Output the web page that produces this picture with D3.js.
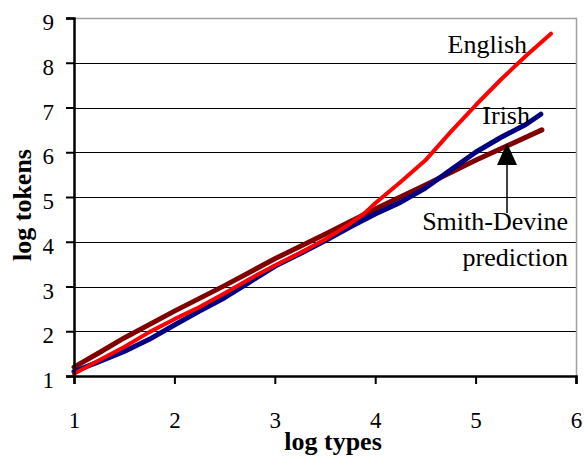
<!DOCTYPE html>
<html>
<head>
<meta charset="utf-8">
<script src="https://cdn.jsdelivr.net/npm/d3@7"></script>
<style>
    body { margin: 0; background: #fff; }
    svg text { font-family: "Liberation Serif", "Times New Roman", serif; fill: #000; }
</style>
</head>
<body>
<div id="chart"></div>
<script>
// 축 눈금
const xTicks = [1, 2, 3, 4, 5, 6];
const yTicks = [1, 2, 3, 4, 5, 6, 7, 8, 9];

// log types -> log tokens
const english = [
    [1.0, 1.05], [1.25, 1.35], [1.5, 1.65], [1.75, 1.98], [2.0, 2.27], [2.25, 2.54],
    [2.5, 2.85], [2.75, 3.17], [3.0, 3.47], [3.25, 3.75], [3.5, 4.05], [3.75, 4.4],
    [3.9, 4.65], [4.0, 4.86], [4.25, 5.33], [4.5, 5.82], [4.75, 6.45], [5.0, 7.05],
    [5.25, 7.62], [5.5, 8.15], [5.75, 8.65]
];
const irish = [
    [1.0, 1.1], [1.25, 1.32], [1.5, 1.55], [1.75, 1.82], [2.0, 2.14], [2.25, 2.45],
    [2.5, 2.75], [2.75, 3.1], [3.0, 3.45], [3.25, 3.73], [3.5, 4.02], [3.75, 4.33],
    [4.0, 4.62], [4.25, 4.88], [4.5, 5.2], [4.75, 5.6], [5.0, 6.0], [5.25, 6.33],
    [5.5, 6.62], [5.65, 6.85]
];
const smithDevine = [
    [1.0, 1.2], [1.25, 1.52], [1.5, 1.85], [2.0, 2.45], [2.5, 3.02], [3.0, 3.62],
    [3.5, 4.17], [4.0, 4.73], [4.5, 5.27], [5.0, 5.82], [5.66, 6.5]
];

const width = 584;
const height = 456;
const margin = { top: 18, right: 8, bottom: 80, left: 74 };

const svg = d3.select('#chart')
    .append('svg')
    .attr('width', width)
    .attr('height', height);

const x = d3.scaleLinear().domain([1, 6]).range([margin.left, width - margin.right]);
const y = d3.scaleLinear().domain([1, 9]).range([height - margin.bottom, margin.top]);

// 격자선
svg.append('g')
    .selectAll('line')
    .data(yTicks.slice(1, -1))
    .enter()
    .append('line')
    .attr('x1', x(1))
    .attr('x2', x(6))
    .attr('y1', d => Math.round(y(d)) + 0.5)
    .attr('y2', d => Math.round(y(d)) + 0.5)
    .attr('stroke', '#000')
    .attr('stroke-width', 1);

// 플롯 영역 테두리 (위, 오른쪽)
svg.append('path')
    .attr('d', `M${x(1)},${y(9) + 0.5}H${x(6) + 0.5}V${y(1)}`)
    .attr('fill', 'none')
    .attr('stroke', '#a0a0a0')
    .attr('stroke-width', 1.5);

// 데이터 선
const line = d3.line()
    .x(d => x(d[0]))
    .y(d => y(d[1]));

const series = [
    { name: 'Smith-Devine', data: smithDevine, color: '#800000', w: 5 },
    { name: 'Irish', data: irish, color: '#000080', w: 5 },
    { name: 'English', data: english, color: '#ff0000', w: 4 }
];

svg.append('g')
    .selectAll('path')
    .data(series)
    .enter()
    .append('path')
    .attr('d', d => line(d.data))
    .attr('fill', 'none')
    .attr('stroke', d => d.color)
    .attr('stroke-width', d => d.w)
    .attr('stroke-linecap', 'round')
    .attr('stroke-linejoin', 'round');

// 축
const xAxis = svg.append('g')
    .attr('transform', `translate(0,${y(1)})`)
    .call(d3.axisBottom(x).tickValues(xTicks).tickSize(8).tickPadding(28).tickFormat(d3.format('d')));

const yAxis = svg.append('g')
    .attr('transform', `translate(${x(1)},0)`)
    .call(d3.axisLeft(y).tickValues(yTicks).tickSize(8).tickPadding(12).tickFormat(d3.format('d')));

[xAxis, yAxis].forEach(g => {
    g.select('.domain').attr('stroke', '#000').attr('stroke-width', 2.5);
    g.selectAll('.tick line').attr('stroke', '#000').attr('stroke-width', 2);
    g.selectAll('.tick text')
        .attr('font-size', '23px')
        .attr('font-family', '"Liberation Serif", "Times New Roman", serif');
});
xAxis.selectAll('.tick text').attr('dy', '0.71em');
yAxis.selectAll('.tick text').attr('dy', '0.5em');

// 축 제목
svg.append('text')
    .attr('x', 333)
    .attr('y', 450)
    .attr('text-anchor', 'middle')
    .attr('font-size', '26px')
    .attr('font-weight', 'bold')
    .text('log types');

svg.append('text')
    .attr('transform', 'translate(31,205) rotate(-90)')
    .attr('text-anchor', 'middle')
    .attr('font-size', '26px')
    .attr('font-weight', 'bold')
    .text('log tokens');

// 계열 레이블
const notes = [
    { text: 'English', x: 527, y: 53 },
    { text: 'Irish', x: 530, y: 124 },
    { text: 'Smith-Devine', x: 568, y: 230 },
    { text: 'prediction', x: 568, y: 266 }
];

svg.append('g')
    .selectAll('text')
    .data(notes)
    .enter()
    .append('text')
    .attr('x', d => d.x)
    .attr('y', d => d.y)
    .attr('text-anchor', 'end')
    .attr('font-size', '26px')
    .text(d => d.text);

// 화살표
const arrowX = 507;
svg.append('line')
    .attr('x1', arrowX)
    .attr('x2', arrowX)
    .attr('y1', 213)
    .attr('y2', 163)
    .attr('stroke', '#000')
    .attr('stroke-width', 1.5);

svg.append('path')
    .attr('d', `M${arrowX},143 L${arrowX + 10},165 L${arrowX - 10},165 Z`)
    .attr('fill', '#000');
</script>
</body>
</html>
